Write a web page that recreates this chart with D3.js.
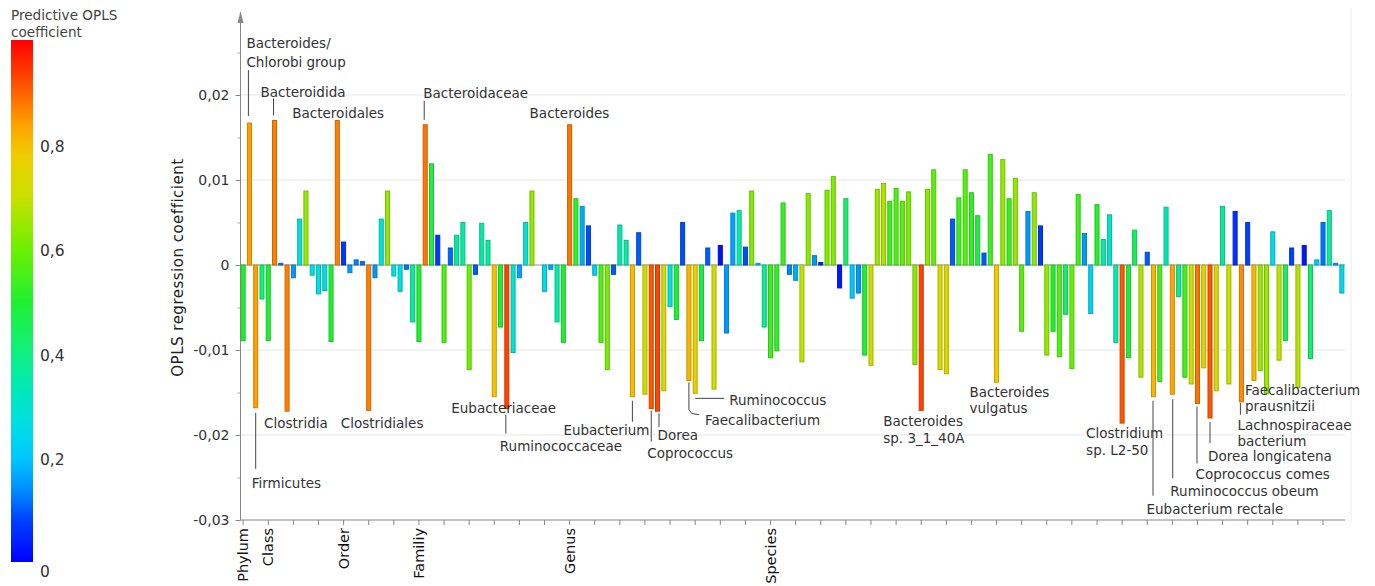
<!DOCTYPE html>
<html>
<head>
<meta charset="utf-8">
<script src="https://cdn.jsdelivr.net/npm/d3@7"></script>
<style>
  body { margin: 0; background: #fff; }
  svg { display: block; font-family: "DejaVu Sans", sans-serif; }
</style>
</head>
<body>
<div id="chart"></div>
<script>
// OPLS regression coefficient per taxon, left to right (null = no bar)
const coefficients = [
  -0.0089, 0.0167, -0.0168, -0.0040, -0.0089, 0.0170, 0.0002, -0.0172, -0.0015, 0.0054,
  0.0087, -0.0012, -0.0034, -0.0030, -0.0090, 0.0170, 0.0027, -0.0009, 0.0006, 0.0004,
  -0.0171, -0.0015, 0.0054, 0.0087, -0.0013, -0.0031, -0.0005, -0.0067, -0.0090, 0.0165,
  0.0119, 0.0035, -0.0091, 0.0020, 0.0035, 0.0050, -0.0123, -0.0011, 0.0049, 0.0029,
  -0.0155, -0.0073, -0.0169, -0.0103, -0.0015, 0.0050, 0.0087, null, -0.0031, -0.0005,
  -0.0067, -0.0091, 0.0165, 0.0078, 0.0069, 0.0046, -0.0012, -0.0091, -0.0123, -0.0011,
  0.0047, 0.0029, -0.0155, 0.0038, -0.0152, -0.0169, -0.0172, -0.0148, -0.0049, -0.0064,
  0.0050, -0.0136, -0.0151, -0.0089, 0.0020, -0.0146, 0.0023, -0.0080, 0.0061, 0.0064,
  0.0021, 0.0087, 0.0002, -0.0073, -0.0109, -0.0101, 0.0073, -0.0011, -0.0018, -0.0114,
  0.0084, 0.0011, 0.0003, 0.0088, 0.0104, -0.0027, 0.0078, -0.0039, -0.0033, -0.0106,
  -0.0118, 0.0089, 0.0096, 0.0075, 0.0090, 0.0075, 0.0086, -0.0117, -0.0171, 0.0089,
  0.0112, -0.0123, -0.0128, 0.0054, 0.0079, 0.0112, 0.0085, 0.0058, 0.0014, 0.0130,
  -0.0138, 0.0124, 0.0078, 0.0102, -0.0078, 0.0063, 0.0085, 0.0046, -0.0106, -0.0078,
  -0.0108, -0.0058, -0.0122, 0.0083, 0.0037, -0.0057, 0.0071, 0.0030, 0.0059, -0.0091,
  -0.0186, -0.0109, 0.0041, -0.0132, 0.0015, -0.0155, -0.0137, 0.0068, -0.0152, -0.0037,
  -0.0132, -0.0140, -0.0163, -0.0121, -0.0180, -0.0148, 0.0069, -0.0140, 0.0063, -0.0161,
  0.0050, -0.0136, -0.0124, -0.0151, 0.0039, -0.0112, -0.0089, 0.0020, -0.0144, 0.0023,
  -0.0110, 0.0006, 0.0050, 0.0064, 0.0002, -0.0033
];

// predictive OPLS coefficient per taxon (bar colour), same order
const predictive = [
  0.50, 0.84, 0.84, 0.40, 0.50, 0.87, 0.12, 0.87, 0.15, 0.28,
  0.64, 0.27, 0.27, 0.26, 0.50, 0.87, 0.07, 0.15, 0.13, 0.12,
  0.87, 0.15, 0.28, 0.64, 0.27, 0.26, 0.12, 0.36, 0.50, 0.88,
  0.48, 0.07, 0.56, 0.11, 0.36, 0.36, 0.60, 0.10, 0.35, 0.37,
  0.79, 0.49, 0.93, 0.30, 0.16, 0.28, 0.64, null, 0.26, 0.16,
  0.35, 0.50, 0.88, 0.52, 0.17, 0.09, 0.22, 0.56, 0.61, 0.10,
  0.34, 0.36, 0.80, 0.10, 0.71, 0.91, 0.93, 0.73, 0.27, 0.50,
  0.09, 0.81, 0.76, 0.47, 0.10, 0.71, 0.02, 0.15, 0.16, 0.35,
  0.09, 0.62, 0.18, 0.37, 0.54, 0.52, 0.53, 0.13, 0.17, 0.69,
  0.63, 0.15, 0.05, 0.62, 0.62, 0.03, 0.43, 0.20, 0.15, 0.50,
  0.72, 0.65, 0.67, 0.54, 0.56, 0.58, 0.62, 0.63, 0.93, 0.63,
  0.58, 0.73, 0.74, 0.10, 0.54, 0.57, 0.52, 0.48, 0.10, 0.54,
  0.78, 0.64, 0.53, 0.64, 0.57, 0.15, 0.64, 0.07, 0.64, 0.50,
  0.56, 0.42, 0.59, 0.54, 0.15, 0.23, 0.51, 0.36, 0.30, 0.34,
  0.91, 0.49, 0.44, 0.67, 0.10, 0.81, 0.55, 0.34, 0.83, 0.37,
  0.54, 0.71, 0.88, 0.74, 0.91, 0.73, 0.36, 0.70, 0.06, 0.86,
  0.08, 0.81, 0.64, 0.65, 0.25, 0.69, 0.46, 0.08, 0.68, 0.03,
  0.42, 0.20, 0.12, 0.37, 0.15, 0.25
];

// taxonomic level labels under the x axis (bar number where each level starts)
const levelBars = [1, 5, 17, 29, 53, 85];
const levelNames = ["Phylum", "Class", "Order", "Familiy", "Genus", "Species"];

const yTicks = [-0.03, -0.02, -0.01, 0, 0.01, 0.02];
const legendTicks = [0, 0.2, 0.4, 0.6, 0.8];

// jet-like colour ramp of the legend
const rampStops = [0, 0.08, 0.14, 0.2, 0.27, 0.33, 0.4, 0.5, 0.6, 0.7, 0.78, 0.84, 0.9, 1];
const rampColors = ["#0000ff", "#0040ff", "#0090ff", "#00c8ff", "#00e0e0", "#00e8b8", "#10f080",
  "#20f030", "#6ef000", "#c8e000", "#f0cc00", "#ffa000", "#ff6000", "#ff0000"];

// labelled taxa: bar number, text lines and offsets from the bar end
const annotations = [
  { bar: 2, lines: ["Bacteroides/", "Chlorobi group"], dx: -3, dy: [-75, -56], lead: [[-1, -53], [-1, -7]] },
  { bar: 6, lines: ["Bacteroidida"], dx: -14, dy: [-24], lead: [[-1, -22], [-1, -5]] },
  { bar: 16, lines: ["Bacteroidales"], dx: -45, dy: [-3] },
  { bar: 30, lines: ["Bacteroidaceae"], dx: -2, dy: [-27], lead: [[-1, -24], [-1, -5]] },
  { bar: 53, lines: ["Bacteroides"], dx: -40, dy: [-7] },
  { bar: 8, lines: ["Clostridia"], dx: -23, dy: [17] },
  { bar: 3, lines: ["Firmicutes"], dx: -4, dy: [80], lead: [[0, 5], [0, 61]] },
  { bar: 21, lines: ["Clostridiales"], dx: -28, dy: [18] },
  { bar: 41, lines: ["Eubacteriaceae"], dx: -43, dy: [16] },
  { bar: 43, lines: ["Ruminococcaceae"], dx: -7, dy: [42], lead: [[-1, 6], [-1, 25]] },
  { bar: 63, lines: ["Eubacterium"], dx: -69, dy: [38], lead: [[0, 4], [0, 25]] },
  { bar: 66, lines: ["Coprococcus"], dx: -4, dy: [49], lead: [[0, 2], [0, 33]] },
  { bar: 67, lines: ["Dorea"], dx: 0, dy: [29], lead: [[1.5, 2], [1.5, 16]] },
  { bar: 72, lines: ["Faecalibacterium"], dx: 16, dy: [44], lead: [[0, 2], [0, 29], [3, 33], [10, 34]] },
  { bar: 73, lines: ["Ruminococcus"], dx: 34, dy: [12], lead: [[0, 5], [29, 5]] },
  { bar: 109, lines: ["Bacteroides", "sp. 3_1_40A"], dx: -38, dy: [16, 33] },
  { bar: 121, lines: ["Bacteroides", "vulgatus"], dx: -27, dy: [15, 31] },
  { bar: 141, lines: ["Clostridium", "sp. L2-50"], dx: -36, dy: [15, 32], halo: true },
  { bar: 146, lines: ["Eubacterium rectale"], dx: -7, dy: [117], lead: [[-0.5, 4], [-0.5, 99]] },
  { bar: 149, lines: ["Ruminococcus obeum"], dx: -2, dy: [102], lead: [[0.4, 5], [0.4, 84]] },
  { bar: 153, lines: ["Coprococcus comes"], dx: -2, dy: [75], lead: [[-0.5, 3], [-0.5, 60]] },
  { bar: 155, lines: ["Dorea longicatena"], dx: -2, dy: [43], lead: [[0, 4], [0, 25]] },
  { bar: 160, lines: ["Lachnospiraceae", "bacterium"], dx: -4, dy: [28, 44], lead: [[-1, 1], [-1, 13]] },
  { bar: 162, lines: ["Faecalibacterium", "prausnitzii"], dx: -9, dy: [14, 30] }
];

const width = 1375;
const height = 586;

const bars = coefficients
  .map((v, i) => ({ id: i + 1, value: v, p: predictive[i] }))
  .filter(d => d.value !== null);

const svg = d3.select("#chart")
  .append("svg")
  .attr("width", width)
  .attr("height", height);

const x = d3.scaleBand()
  .domain(d3.range(1, coefficients.length + 1))
  .range([240, 1345])
  .paddingInner(0.2)
  .paddingOuter(0.1);

const y = d3.scaleLinear()
  .domain([-0.03, 0.03])
  .range([520, 10]);

const color = d3.scaleLinear()
  .domain(rampStops)
  .range(rampColors)
  .clamp(true);

const cx = id => x(id) + x.bandwidth() / 2;

const locale = d3.formatLocale({ decimal: ",", thousands: ".", grouping: [3], currency: ["", ""], minus: "-" });
const fmt = locale.format(".2f");

// grid
svg.append("g")
  .selectAll("line")
  .data(yTicks.filter(t => t !== 0 && t !== -0.03))
  .enter()
  .append("line")
  .attr("x1", 241).attr("x2", 1345)
  .attr("y1", d => y(d)).attr("y2", d => y(d))
  .attr("stroke", "#e6e6e6");

// right frame line
svg.append("line")
  .attr("x1", 1351).attr("x2", 1351)
  .attr("y1", 8).attr("y2", 522)
  .attr("stroke", "#ececec");

// y axis
const yAxis = svg.append("g")
  .attr("transform", "translate(240.5,0)")
  .call(d3.axisLeft(y).tickValues(yTicks).tickSize(5).tickPadding(6)
    .tickFormat(d => d === 0 ? "0" : fmt(d)));
yAxis.select(".domain").remove();
yAxis.selectAll("line").attr("stroke", "#888");
yAxis.selectAll("text").attr("fill", "#333").style("font-size", "14px").style("font-family", "DejaVu Sans, sans-serif");

svg.append("g")
  .attr("transform", "translate(240.5,0)")
  .call(d3.axisLeft(y).tickValues([-0.025, -0.015, -0.005, 0.005, 0.015, 0.025]).tickSize(3).tickFormat(""))
  .call(g => g.select(".domain").remove())
  .selectAll("line").attr("stroke", "#aaa");

svg.append("line")
  .attr("x1", 240.5).attr("x2", 240.5)
  .attr("y1", y(-0.03)).attr("y2", 20)
  .attr("stroke", "#888");
svg.append("path")
  .attr("d", "M240.5,11 L237.5,23 L243.5,23 Z")
  .attr("fill", "#888");

svg.append("text")
  .attr("transform", "translate(183," + y(-0.0003) + ") rotate(-90)")
  .attr("text-anchor", "middle")
  .attr("fill", "#222")
  .style("font-size", "15px")
  .style("letter-spacing", "0.5px")
  .text("OPLS regression coefficient");

// x axis
svg.append("line")
  .attr("x1", 240).attr("x2", 1345)
  .attr("y1", y(-0.03)).attr("y2", y(-0.03))
  .attr("stroke", "#888");

svg.append("g")
  .selectAll("line")
  .data(d3.range(1, coefficients.length + 1, 4))
  .enter()
  .append("line")
  .attr("x1", d => cx(d)).attr("x2", d => cx(d))
  .attr("y1", y(-0.03)).attr("y2", y(-0.03) + 5)
  .attr("stroke", "#888");

svg.append("g")
  .selectAll("text")
  .data(levelBars)
  .enter()
  .append("text")
  .attr("transform", d => "translate(" + cx(d) + "," + (y(-0.03) + 8) + ") rotate(-90)")
  .attr("text-anchor", "end")
  .attr("dy", "0.35em")
  .attr("fill", "#111")
  .style("font-size", "14.5px")
  .text((d, i) => levelNames[i]);

// zero line
svg.append("line")
  .attr("x1", 241).attr("x2", 1345)
  .attr("y1", y(0)).attr("y2", y(0))
  .attr("stroke", "#999");

// bars
svg.append("g")
  .selectAll("rect")
  .data(bars)
  .enter()
  .append("rect")
  .attr("x", d => x(d.id) + 0.5)
  .attr("width", x.bandwidth() - 1)
  .attr("y", d => y(Math.max(d.value, 0)))
  .attr("height", d => Math.abs(y(d.value) - y(0)))
  .attr("fill", d => color(d.p))
  .attr("stroke", d => d3.color(color(d.p)).darker(0.6))
  .attr("stroke-width", 1);

// annotations
const ann = svg.append("g").attr("class", "annotations");
annotations.forEach(a => {
  const bx = cx(a.bar);
  const by = y(coefficients[a.bar - 1]);
  if (a.lead) {
    ann.append("path")
      .attr("d", d3.line()(a.lead.map(p => [bx + p[0], by + p[1]])))
      .attr("fill", "none")
      .attr("stroke", "#444")
      .attr("stroke-width", 1);
  }
  const t = ann.append("text")
    .attr("fill", "#333")
    .style("font-size", "13.5px");
  if (a.halo) {
    t.attr("stroke", "#fff").attr("stroke-width", 3).attr("paint-order", "stroke");
  }
  a.lines.forEach((line, i) => {
    t.append("tspan")
      .attr("x", bx + a.dx)
      .attr("y", by + a.dy[i])
      .text(line);
  });
});

// legend
const ly = d3.scaleLinear().domain([0, 1]).range([562, 40]);
const grad = svg.append("defs")
  .append("linearGradient")
  .attr("id", "ramp")
  .attr("x1", "0%").attr("y1", "100%")
  .attr("x2", "0%").attr("y2", "0%");
grad.selectAll("stop")
  .data(rampStops)
  .enter()
  .append("stop")
  .attr("offset", d => (d * 100) + "%")
  .attr("stop-color", (d, i) => rampColors[i]);

svg.append("rect")
  .attr("x", 11).attr("y", ly(1))
  .attr("width", 22).attr("height", ly(0) - ly(1))
  .style("fill", "url(#ramp)");

svg.append("g")
  .selectAll("text")
  .data(legendTicks)
  .enter()
  .append("text")
  .attr("x", 40)
  .attr("y", d => d === 0 ? ly(d) + 10 : ly(d) + 2)
  .attr("dy", "0.35em")
  .attr("fill", "#333")
  .style("font-size", "15.5px")
  .text(d => d === 0 ? "0" : locale.format(".1f")(d));

svg.append("text")
  .attr("x", 11).attr("y", 20)
  .attr("fill", "#444")
  .style("font-size", "13.6px")
  .text("Predictive OPLS");
svg.append("text")
  .attr("x", 11).attr("y", 37)
  .attr("fill", "#444")
  .style("font-size", "13.6px")
  .text("coefficient");
</script>
</body>
</html>
